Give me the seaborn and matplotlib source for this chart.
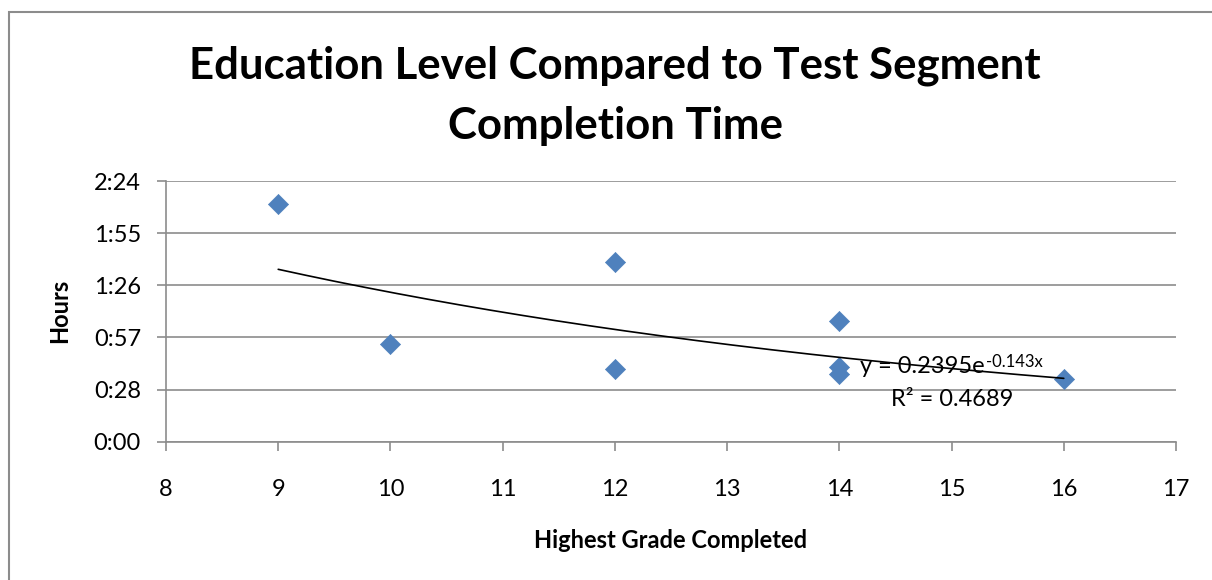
import numpy as np
import pandas as pd
import matplotlib
matplotlib.use("Agg")
import matplotlib.pyplot as plt
import seaborn as sns
from matplotlib.patches import Rectangle

# ---- data (hours stored as fraction of a day, like Excel) ----
grade = [9, 10, 12, 12, 14, 14, 14, 16]
time_days = [0.0911, 0.0375, 0.0688, 0.0278, 0.0464, 0.0288, 0.0260, 0.0240]
trend_a = 0.2395
trend_b = -0.143
trend_x_range = [9, 16]
x_ticks = [8, 9, 10, 11, 12, 13, 14, 15, 16, 17]
y_ticks = [0.0, 0.02, 0.04, 0.06, 0.08, 0.10]
y_tick_labels = ["0:00", "0:28", "0:57", "1:26", "1:55", "2:24"]
title_lines = ["Education Level Compared to Test Segment", "Completion Time"]
x_label = "Highest Grade Completed"
y_label = "Hours"
eq_main = "y = 0.2395e"
eq_sup = "-0.143x"
r2_text = "R² = 0.4689"

df = pd.DataFrame({"grade": grade, "time": time_days})

sns.set_theme(style="white")
plt.rcParams["font.family"] = ["Lato", "DejaVu Sans"]
plt.rcParams["text.color"] = "black"
plt.rcParams["axes.labelcolor"] = "black"

W, H = 1212, 580
fig = plt.figure(figsize=(W / 100, H / 100), dpi=100)
ax = fig.add_axes([166 / W, 1 - 441.7 / H, (1176 - 166) / W, (441.7 - 181) / H])

grid_c = "#8c8c8c"
ax.set_axisbelow(True)
ax.yaxis.grid(True, color=grid_c, lw=1.2)
ax.xaxis.grid(False)

sns.scatterplot(data=df, x="grade", y="time", ax=ax, marker="D", s=105,
                color="#4F81BD", edgecolor="#4F81BD", linewidth=0.5, zorder=3)

xs = np.linspace(trend_x_range[0], trend_x_range[1], 200)
ax.plot(xs, trend_a * np.exp(trend_b * xs), color="black", lw=1.2, zorder=4)

ax.set_xlim(8, 17)
ax.set_ylim(0, 0.10)
ax.set_xticks(x_ticks)
ax.set_xticklabels([str(t) for t in x_ticks])
ax.set_yticks(y_ticks)
ax.set_yticklabels(y_tick_labels)

for s in ["top", "right"]:
    ax.spines[s].set_visible(False)
for s in ["left", "bottom"]:
    ax.spines[s].set_color(grid_c)
    ax.spines[s].set_linewidth(1.2)

ax.tick_params(axis="both", which="major", direction="out", length=6.5, width=1.2,
               color=grid_c, labelsize=17, labelcolor="black",
               left=True, bottom=True)
ax.tick_params(axis="x", pad=20.5)
ax.tick_params(axis="y", pad=11.5)

ax.set_xlabel(x_label, fontsize=17, fontweight="bold", labelpad=21)
ax.set_ylabel(y_label, fontsize=17, fontweight="bold", labelpad=16)

t_eq = ax.text(14.18, 0.0263, eq_main, fontsize=17, va="baseline", ha="left", zorder=5)
ax.annotate(eq_sup, xy=(1, 0), xycoords=t_eq, xytext=(1, 7.5), textcoords="offset points",
            fontsize=12, va="baseline", ha="left", zorder=5)
ax.text(14.46, 0.0137, r2_text, fontsize=17, va="baseline", ha="left", zorder=5)

fig.text(615 / W, 1 - 79 / H, title_lines[0], fontsize=31.5, fontweight="bold",
         ha="center", va="baseline")
fig.text(615 / W, 1 - 139 / H, title_lines[1], fontsize=31.5, fontweight="bold",
         ha="center", va="baseline")

fig.patches.append(Rectangle((8.5 / W, -0.1), 1.2, 1.1 - 11.5 / H,
                             transform=fig.transFigure, fill=False,
                             edgecolor="#8c8c8c", lw=1.5))

fig.savefig("out.png", dpi=100)
